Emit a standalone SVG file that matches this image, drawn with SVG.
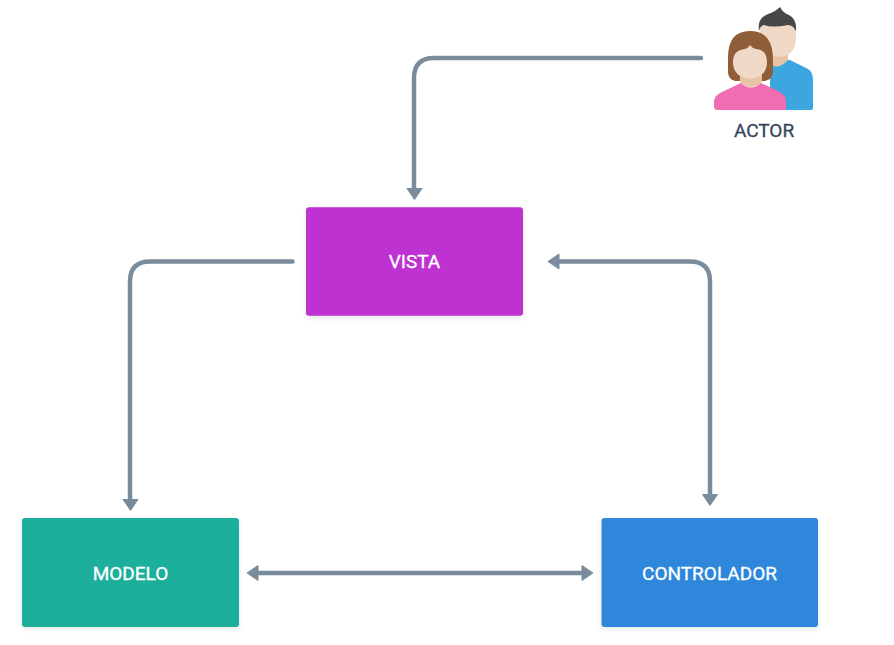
<svg xmlns="http://www.w3.org/2000/svg" width="894" height="645" viewBox="0 0 894 645">
<style>
.box{filter:url(#sh)}
.lbl{font-family:"Roboto","Liberation Sans",sans-serif;font-size:19px;fill:#fff;stroke:#fff;stroke-width:0.300;text-anchor:middle;font-weight:400}
.con{fill:none;stroke:#7a8c9c;stroke-width:4.500;stroke-linecap:round}
.head{fill:#7a8c9c;stroke:#7a8c9c;stroke-width:1;stroke-linejoin:round}
</style>
<defs>
<filter id="sh" x="-10%" y="-10%" width="120%" height="125%"><feDropShadow dx="0" dy="2" stdDeviation="2.500" flood-color="#000" flood-opacity="0.1"/></filter>
</defs>
<rect width="894" height="645" fill="#fff"/>
<g id="connectors">
<path class="con" d="M701 58H434Q414 58 414 78V190"/>
<path class="head" d="M407 188.500L414.500 199.500L422 188.500Z"/>
<path class="con" d="M292.500 261.500H150Q130 261.500 130 281.500V500"/>
<path class="head" d="M123 499.500L130.500 510.500L138 499.500Z"/>
<path class="con" d="M557 261.500H690Q710 261.500 710 281.500V496"/>
<path class="head" d="M559 254L548 261.500L559 269Z"/>
<path class="head" d="M702.500 494.500L710 505.500L717.500 494.500Z"/>
<path class="con" d="M256 573H584"/>
<path class="head" d="M258 565.500L247 573L258 580.500Z"/>
<path class="head" d="M582 565.500L593 573L582 580.500Z"/>
</g>
<g id="vista"><rect class="box" x="306" y="207.300" width="217" height="108.500" rx="3" fill="#bd33d1"/><text class="lbl" x="414.500" y="268">VISTA</text></g>
<g id="modelo"><rect class="box" x="22" y="518" width="217" height="109" rx="3" fill="#1aaf9c"/><text class="lbl" x="130.500" y="579.500">MODELO</text></g>
<g id="controlador"><rect class="box" x="601.500" y="518" width="216.500" height="109" rx="3" fill="#2d87da"/><text class="lbl" x="709.500" y="579.500">CONTROLADOR</text></g>
<g id="actor">
<path d="M770 60L790 60L808 69Q813 72 813 80V108Q813 110 811 110H770Z" fill="#3ba6e0"/>
<path d="M766 46H788V60Q777 72 766 62Z" fill="#e8c3a6"/>
<path d="M760 24H796V38Q796 56 778 57Q760 56 760 38Z" fill="#efd9c6"/>
<path d="M759 31Q757 18 768 14Q775 12 780 7Q783 13 789 15Q797 19 796 31Q793 25 788 25Q772 28 764 25Q760 26 759 31Z" fill="#474747"/>
<path d="M728 60Q727 31 750 31Q773 31 773 60V72Q773 79 765 81H735Q728 79 728 72Z" fill="#8f5e38"/>
<path d="M740 68H762V82Q751 92 740 82Z" fill="#e8c3a6"/>
<path d="M733 62Q733 50 745 49Q748 48 750 45Q752 48 756 49Q767 50 767 62Q767 77 750 79Q733 77 733 62Z" fill="#efd9c6"/>
<path d="M714 106V101Q715 95 722 92L741 83Q751 92 761 83L778 91Q786 95 786 101V110H717Q714 110 714 106Z" fill="#f26cb1"/>
<text x="764" y="137" font-family="Roboto,Liberation Sans,sans-serif" font-size="19" font-weight="400" fill="#36465a" stroke="#36465a" stroke-width="0.300" text-anchor="middle">ACTOR</text>
</g>
</svg>
